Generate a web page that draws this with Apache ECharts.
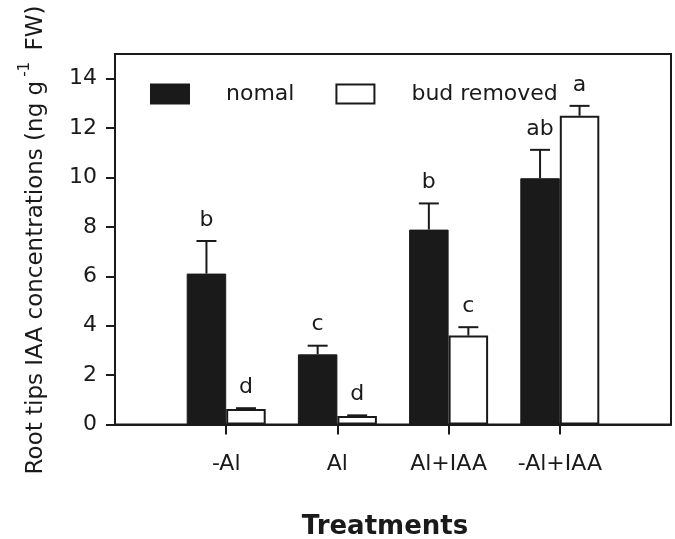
<!DOCTYPE html>
<html>
<head>
<meta charset="utf-8">
<script src="https://cdn.jsdelivr.net/npm/echarts@6/dist/echarts.min.js"></script>
<style>html,body{margin:0;padding:0;background:#fff}#c{width:675px;height:539px}</style>
</head>
<body>
<div id="c"></div>
<script>
// ---- data ----
const categories = ['', '-Al', 'Al', 'Al+IAA', '-Al+IAA', ''];
const seriesNames = ['nomal', 'bud removed'];
const normalValues = ['-', 6.11, 2.84, 7.89, 9.97, '-'];
const normalErrors = [null, 1.32, 0.35, 1.06, 1.15, null];
const normalLetters = [null, 'b', 'c', 'b', 'ab', null];
const removedValues = ['-', 0.63, 0.34, 3.60, 12.50, '-'];
const removedErrors = [null, 0.03, 0.03, 0.34, 0.40, null];
const removedLetters = [null, 'd', 'd', 'c', 'a', null];
const yTicks = [0, 2, 4, 6, 8, 10, 12, 14];

// ---- styles ----
const FONT = '"DejaVu Sans", Arial, sans-serif';
const BAR_W = 39.5;
const CAP = 10;
const INK = '#1a1a1a';

function errData(vals, errs) {
  const out = [];
  for (let i = 0; i < vals.length; i++) {
    if (errs[i] != null) out.push([i, vals[i], errs[i]]);
  }
  return out;
}

function makeErr(side, letters) {
  return function (params, api) {
    const idx = api.value(0);
    const v = api.value(1);
    const e = api.value(2);
    const letter = letters[idx] || '';
    const base = api.coord([idx, v]);
    const top = api.coord([idx, v + e]);
    const x = base[0] + side * BAR_W / 2;
    const ls = { stroke: INK, lineWidth: 2 };
    return {
      type: 'group',
      children: [
        { type: 'line', shape: { x1: x, y1: base[1], x2: x, y2: top[1] }, style: ls },
        { type: 'line', shape: { x1: x - CAP, y1: top[1], x2: x + CAP, y2: top[1] }, style: ls },
        { type: 'text', x: x, y: top[1] - 10,
          style: { text: letter, fill: INK, font: '22px ' + FONT,
                   textAlign: 'center', textVerticalAlign: 'bottom' } }
      ]
    };
  };
}

const chart = echarts.init(document.getElementById('c'), null, { renderer: 'canvas' });
chart.setOption({
  animation: false,
  backgroundColor: '#fff',
  grid: { left: 115, right: 4, top: 54, bottom: 114.5, show: true, borderColor: INK, borderWidth: 2, backgroundColor: 'transparent' },
  legend: {
    data: seriesNames,
    left: 145, top: 78,
    itemWidth: 38, itemHeight: 19, itemGap: 41,
    icon: 'rect',
    textStyle: { fontFamily: FONT, fontSize: 22, color: INK, padding: [0, 0, 0, 32] },
    selectedMode: false
  },
  xAxis: {
    type: 'category',
    data: categories,
    boundaryGap: false,
    axisLine: { lineStyle: { color: INK, width: 2 } },
    axisTick: { length: 10, lineStyle: { color: INK, width: 2 },
                interval: function (i) { return i >= 1 && i <= 4; } },
    axisLabel: { fontFamily: FONT, fontSize: 22, color: INK, margin: 29,
                 interval: function (i) { return i >= 1 && i <= 4; } },
    splitLine: { show: false }
  },
  yAxis: {
    type: 'value',
    min: 0, max: 15, interval: 1,
    axisLine: { show: true, lineStyle: { color: INK, width: 2 } },
    axisTick: { show: true, length: 9, lineStyle: { color: INK, width: 2 }, customValues: yTicks },
    axisLabel: { fontFamily: FONT, fontSize: 22, color: INK, margin: 18, customValues: yTicks },
    splitLine: { show: false }
  },
  graphic: [
    { type: 'text', x: 33, y: 240, rotation: Math.PI / 2,
      style: {
        text: '{m|Root tips IAA concentrations (ng g}{s|-1}{m| FW)}',
        rich: {
          m: { fontFamily: FONT, fontSize: 23, fill: INK, lineHeight: 30, verticalAlign: 'bottom' },
          s: { fontFamily: FONT, fontSize: 15, fill: INK, lineHeight: 30, verticalAlign: 'top', padding: [0, 4, 0, 4] }
        },
        textAlign: 'center', textVerticalAlign: 'middle'
      } },
    { type: 'text', x: 385, y: 527,
      style: { text: 'Treatments', font: 'bold 26px ' + FONT, fill: INK,
               textAlign: 'center', textVerticalAlign: 'middle' } }
  ],
  series: [
    { name: seriesNames[0], type: 'bar', data: normalValues, barWidth: BAR_W, barGap: '0%',
      itemStyle: { color: INK, borderColor: INK, borderWidth: 1 } },
    { name: seriesNames[1], type: 'bar', data: removedValues, barWidth: BAR_W, barGap: '0%',
      itemStyle: { color: '#fff', borderColor: INK, borderWidth: 2 } },
    { type: 'custom', renderItem: makeErr(-1, normalLetters), data: errData(normalValues, normalErrors), z: 5 },
    { type: 'custom', renderItem: makeErr(1, removedLetters), data: errData(removedValues, removedErrors), z: 5 }
  ]
});
</script>
</body>
</html>
